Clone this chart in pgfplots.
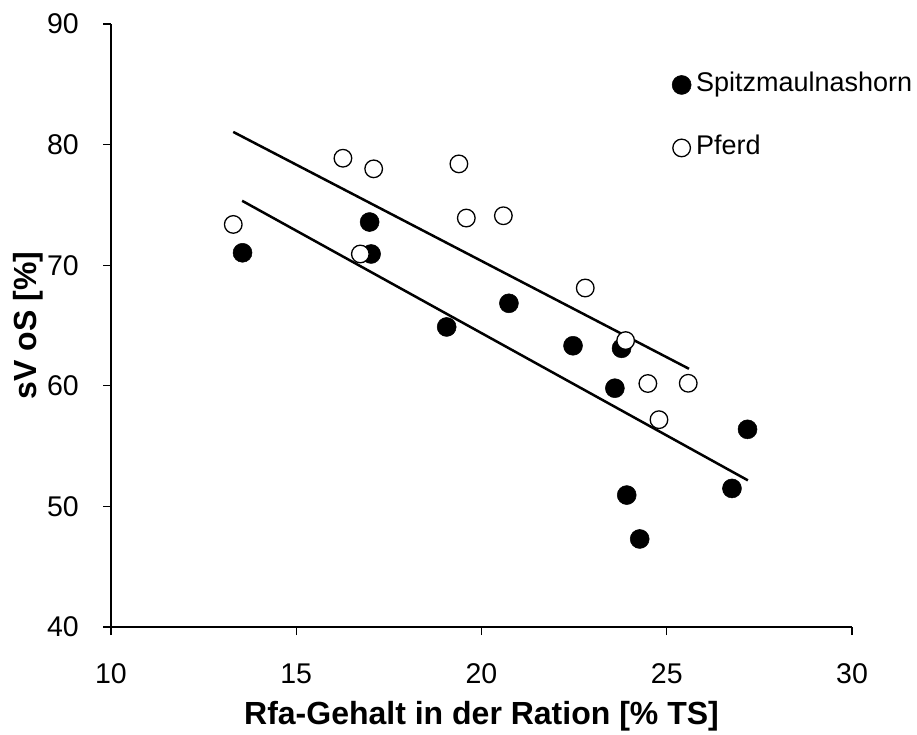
\documentclass[border=0pt]{standalone}
\usepackage{fontspec}
\setmainfont{Liberation Sans}
\usepackage{pgfplots}
\pgfplotsset{compat=1.18}
\begin{document}
\begin{tikzpicture}
\path[use as bounding box] (-111bp,-108bp) rectangle (806bp,627bp);
\begin{axis}[
  at={(0,0)}, anchor=south west,
  width=741bp, height=603bp, scale only axis,
  xmin=10, xmax=30, ymin=40, ymax=90,
  xtick={10,15,20,25,30}, ytick={40,50,60,70,80,90},
  axis lines*=left,
  tick align=outside,
  major tick length=8bp,
  axis line style={line width=1.2bp, black},
  every tick/.style={line width=1.2bp, black},
  /pgf/number format/assume math mode=true,
  tick label style={font=\fontsize{28.5bp}{32bp}\selectfont, inner sep=0pt},
  xticklabel style={anchor=center, yshift=-39bp},
  yticklabel style={anchor=east, xshift=-24bp},
  xlabel={Rfa-Gehalt in der Ration [\% TS]},
  ylabel={sV oS [\%]},
  label style={font=\fontsize{32bp}{36bp}\selectfont\bfseries},
  xlabel style={at={(axis description cs:0.5,-0.148)}, anchor=center},
  ylabel style={at={(axis description cs:-0.112,0.5)}, anchor=center},
  legend style={draw=none, fill=none, at={(axis description cs:0.757,0.92)}, anchor=north west,
    font=\fontsize{27bp}{32bp}\selectfont, inner sep=0pt, row sep=38bp, column sep=5bp,
    nodes={inner sep=0pt, text height=19bp, text depth=6bp}},
  legend cell align=left,
  legend image code/.code={\draw[#1] plot coordinates {(0bp,0bp)};},
]
\addplot[only marks, mark=*, mark size=9.5bp, mark options={fill=black, draw=black, line width=0.5bp}] coordinates {
(13.55,71.03) (16.98,73.58) (17.02,70.93) (19.06,64.88) (20.74,66.84) (22.47,63.32)
(23.78,63.11) (23.60,59.80) (27.18,56.39) (23.92,50.94) (24.27,47.30) (26.76,51.49)
};
\addplot[only marks, mark=*, mark size=8.8bp, mark options={fill=white, draw=black, line width=1.3bp}] coordinates {
(16.26,78.87) (17.09,77.99) (19.39,78.40) (19.59,73.91) (20.59,74.10) (13.30,73.38)
(16.73,70.93) (22.80,68.11) (23.89,63.75) (24.49,60.19) (25.58,60.21) (24.79,57.19)
};
\addplot[black, line width=2.5bp, forget plot] coordinates {(13.30,81.05) (25.60,61.41)};
\addplot[black, line width=2.5bp, forget plot] coordinates {(13.54,75.34) (27.19,52.16)};
\legend{Spitzmaulnashorn, Pferd}
\end{axis}
\end{tikzpicture}
\end{document}
